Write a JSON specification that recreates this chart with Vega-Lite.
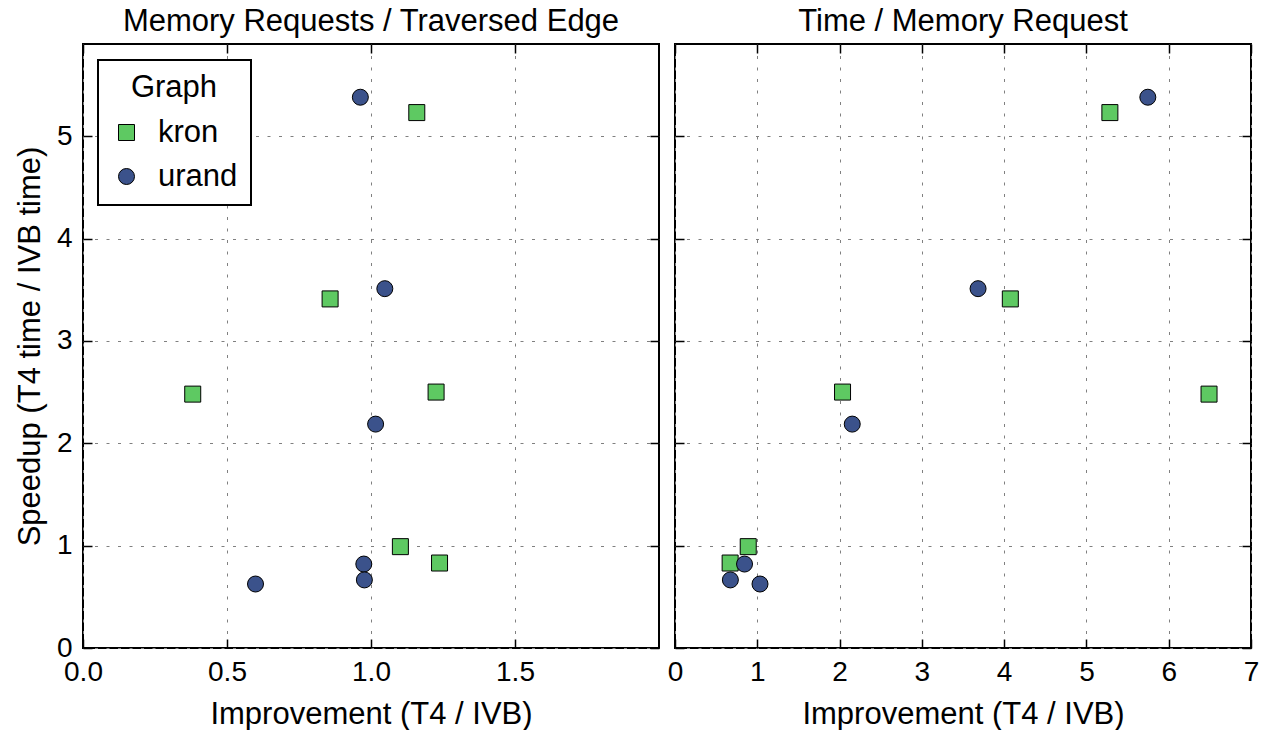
{
  "$schema": "https://vega.github.io/schema/vega-lite/v6.json",
  "padding": {"left": 13, "top": 5, "right": 0, "bottom": 0},
  "background": "white",
  "spacing": 16,
  "bounds": "flush",
  "data": {
    "values": [
      {"graph": "kron", "speedup": 5.23, "mem": 1.159, "time": 5.285},
      {"graph": "kron", "speedup": 3.41, "mem": 0.858, "time": 4.075},
      {"graph": "kron", "speedup": 2.48, "mem": 0.381, "time": 6.49},
      {"graph": "kron", "speedup": 2.50, "mem": 1.226, "time": 2.036},
      {"graph": "kron", "speedup": 0.99, "mem": 1.102, "time": 0.89},
      {"graph": "kron", "speedup": 0.83, "mem": 1.238, "time": 0.67},
      {"graph": "urand", "speedup": 5.38, "mem": 0.963, "time": 5.746},
      {"graph": "urand", "speedup": 3.51, "mem": 1.048, "time": 3.683},
      {"graph": "urand", "speedup": 2.187, "mem": 1.016, "time": 2.154},
      {"graph": "urand", "speedup": 0.82, "mem": 0.975, "time": 0.845},
      {"graph": "urand", "speedup": 0.665, "mem": 0.977, "time": 0.673},
      {"graph": "urand", "speedup": 0.625, "mem": 0.599, "time": 1.033}
    ]
  },
  "hconcat": [
    {
      "width": 576,
      "height": 604,
      "title": {"text": "Memory Requests / Traversed Edge"},
      "layer": [
        {
          "mark": {"type": "point", "filled": true, "opacity": 1, "size": 256, "stroke": "black", "strokeWidth": 1},
          "encoding": {
            "x": {"field": "mem", "type": "quantitative",
                  "scale": {"domain": [0, 2], "nice": false, "zero": false},
                  "axis": {"values": [0, 0.5, 1, 1.5], "format": ".1f", "title": "Improvement (T4 / IVB)", "titleY": 75, "titleBaseline": "alphabetic"}},
            "y": {"field": "speedup", "type": "quantitative",
                  "scale": {"domain": [0, 5.9], "nice": false, "zero": false},
                  "axis": {"values": [0, 1, 2, 3, 4, 5], "format": "d", "title": "Speedup (T4 time / IVB time)", "titleX": -44, "titleBaseline": "alphabetic"}},
            "color": {"field": "graph", "type": "nominal",
                      "scale": {"domain": ["kron", "urand"], "range": ["#5ec962", "#3b528b"]},
                      "legend": {"title": "Graph", "orient": "none", "legendX": 15, "legendY": 16,
                                 "encode": {"symbols": {"update": {"stroke": {"value": "black"}, "strokeWidth": {"value": 1}}}}}},
            "shape": {"field": "graph", "type": "nominal",
                      "scale": {"domain": ["kron", "urand"], "range": ["square", "circle"]},
                      "legend": {"title": "Graph", "orient": "none", "legendX": 15, "legendY": 16,
                                 "encode": {"symbols": {"update": {"stroke": {"value": "black"}, "strokeWidth": {"value": 1}}}}}}
          }
        },
        {
          "mark": {"type": "point", "opacity": 0},
          "encoding": {
            "x": {"field": "mem", "type": "quantitative",
                  "scale": {"domain": [0, 2], "nice": false, "zero": false},
                  "axis": {"orient": "top", "values": [0, 0.5, 1, 1.5], "labels": false, "title": null, "grid": false}},
            "y": {"field": "speedup", "type": "quantitative",
                  "scale": {"domain": [0, 5.9], "nice": false, "zero": false},
                  "axis": {"orient": "right", "values": [0, 1, 2, 3, 4, 5], "labels": false, "title": null, "grid": false}}
          }
        }
      ],
      "resolve": {"axis": {"x": "independent", "y": "independent"}}
    },
    {
      "width": 576,
      "height": 604,
      "title": {"text": "Time / Memory Request"},
      "layer": [
        {
          "mark": {"type": "point", "filled": true, "opacity": 1, "size": 256, "stroke": "black", "strokeWidth": 1},
          "encoding": {
            "x": {"field": "time", "type": "quantitative",
                  "scale": {"domain": [0, 7], "nice": false, "zero": false},
                  "axis": {"values": [0, 1, 2, 3, 4, 5, 6, 7], "format": "d", "title": "Improvement (T4 / IVB)", "titleY": 75, "titleBaseline": "alphabetic"}},
            "y": {"field": "speedup", "type": "quantitative",
                  "scale": {"domain": [0, 5.9], "nice": false, "zero": false},
                  "axis": {"values": [0, 1, 2, 3, 4, 5], "labels": false, "title": null}},
            "color": {"field": "graph", "type": "nominal",
                      "scale": {"domain": ["kron", "urand"], "range": ["#5ec962", "#3b528b"]},
                      "legend": null},
            "shape": {"field": "graph", "type": "nominal",
                      "scale": {"domain": ["kron", "urand"], "range": ["square", "circle"]},
                      "legend": null}
          }
        },
        {
          "mark": {"type": "point", "opacity": 0},
          "encoding": {
            "x": {"field": "time", "type": "quantitative",
                  "scale": {"domain": [0, 7], "nice": false, "zero": false},
                  "axis": {"orient": "top", "values": [0, 1, 2, 3, 4, 5, 6, 7], "labels": false, "title": null, "grid": false}},
            "y": {"field": "speedup", "type": "quantitative",
                  "scale": {"domain": [0, 5.9], "nice": false, "zero": false},
                  "axis": {"orient": "right", "values": [0, 1, 2, 3, 4, 5], "labels": false, "title": null, "grid": false}}
          }
        }
      ],
      "resolve": {"axis": {"x": "independent", "y": "independent"}}
    }
  ],
  "resolve": {"legend": {"color": "independent", "shape": "independent"}},
  "config": {
    "font": "Liberation Sans",
    "view": {"stroke": "black", "strokeWidth": 2},
    "axis": {
      "domain": false,
      "labelFont": "Liberation Sans",
      "labelFontSize": 28,
      "labelColor": "black",
      "labelFlush": false,
      "labelPadding": 19,
      "titleFont": "Liberation Sans",
      "titleFontSize": 31,
      "titleFontWeight": "normal",
      "titleColor": "black",
      "tickColor": "black",
      "tickWidth": 1.5,
      "tickSize": -9,
      "gridColor": "#808080",
      "gridDash": [3, 8.5],
      "gridWidth": 1,
      "gridOpacity": 1
    },
    "axisY": {"labelPadding": 20},
    "title": {"font": "Liberation Sans", "fontSize": 31, "fontWeight": "normal", "color": "black", "baseline": "alphabetic", "offset": 5},
    "legend": {
      "strokeColor": "black",
      "strokeWidth": 2,
      "fillColor": "white",
      "cornerRadius": 0,
      "padding": 13,
      "titleFont": "Liberation Sans",
      "titleFontSize": 31,
      "titleFontWeight": "normal",
      "titleColor": "black",
      "titleAnchor": "middle",
      "titleAlign": "center",
      "titlePadding": 13,
      "labelFont": "Liberation Sans",
      "labelFontSize": 31,
      "labelColor": "black",
      "labelOffset": 16,
      "rowPadding": 12,
      "symbolSize": 256,
      "symbolStrokeColor": "black",
      "symbolStrokeWidth": 1,
      "symbolOpacity": 1
    }
  }
}
